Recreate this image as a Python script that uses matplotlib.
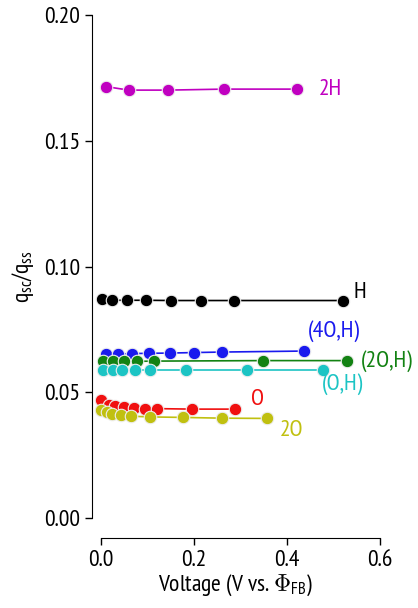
import matplotlib
matplotlib.use('Agg')
import matplotlib.pyplot as plt

plt.rcParams['font.family'] = ['PT Sans Narrow', 'DejaVu Sans']
plt.rcParams['mathtext.fontset'] = 'custom'
plt.rcParams['mathtext.rm'] = 'PT Sans Narrow'
plt.rcParams['mathtext.it'] = 'PT Sans Narrow'

# series: voltage (V vs. flat band) and q_sc/q_ss
v_2h = [0.011, 0.060, 0.145, 0.265, 0.422]
q_2h = [0.1716, 0.1702, 0.1702, 0.1706, 0.1706]

v_h = [0.002, 0.024, 0.057, 0.098, 0.150, 0.216, 0.287, 0.520]
q_h = [0.0872, 0.0866, 0.0866, 0.0866, 0.0865, 0.0865, 0.0865, 0.0865]

v_4oh = [0.011, 0.036, 0.066, 0.104, 0.149, 0.201, 0.260, 0.437]
q_4oh = [0.0654, 0.0652, 0.0654, 0.0655, 0.0656, 0.0658, 0.0660, 0.0664]

v_2oh = [0.004, 0.026, 0.050, 0.078, 0.114, 0.348, 0.529]
q_2oh = [0.0623, 0.0623, 0.0623, 0.0623, 0.0624, 0.0626, 0.0626]

v_oh = [0.005, 0.026, 0.046, 0.074, 0.105, 0.184, 0.315, 0.478]
q_oh = [0.0590, 0.0590, 0.0590, 0.0590, 0.0590, 0.0590, 0.0590, 0.0590]

v_o = [0.001, 0.017, 0.030, 0.050, 0.071, 0.095, 0.121, 0.196, 0.288]
q_o = [0.0468, 0.0450, 0.0444, 0.0440, 0.0437, 0.0435, 0.0435, 0.0433, 0.0433]

v_2o = [0.0, 0.014, 0.024, 0.043, 0.064, 0.105, 0.176, 0.260, 0.358]
q_2o = [0.0429, 0.0422, 0.0413, 0.0409, 0.0405, 0.0402, 0.0400, 0.0397, 0.0396]

series = [
    (v_2h, q_2h, '#c000c0', '2H', (0.468, 0.1704)),
    (v_h, q_h, 'black', 'H', (0.543, 0.0895)),
    (v_4oh, q_4oh, '#1a1aee', '(4O,H)', (0.445, 0.0745)),
    (v_2oh, q_2oh, '#138213', '(2O,H)', (0.558, 0.0625)),
    (v_oh, q_oh, '#1cc4c4', '(O,H)', (0.475, 0.0533)),
    (v_o, q_o, '#f01010', 'O', (0.322, 0.0470)),
    (v_2o, q_2o, '#c0c010', '2O', (0.385, 0.0348)),
]

fig = plt.figure(figsize=(4.18, 6.08), dpi=100)
ax = fig.add_axes([0.220, 0.115, 0.689, 0.860])

for v, q, c, name, pos in series:
    ax.plot(v, q, '-o', color=c, lw=1.2, ms=9, mfc=c,
            mec='#eeeeee', mew=0.8)
    ax.text(pos[0], pos[1], name, color=c, fontsize=17,
            ha='left', va='center')

ax.set_xlim(-0.019, 0.6)
ax.set_ylim(-0.008, 0.2)
ax.set_xticks([0.0, 0.2, 0.4, 0.6])
ax.set_yticks([0.0, 0.05, 0.10, 0.15, 0.20])
ax.set_xticklabels(['0.0', '0.2', '0.4', '0.6'])
ax.set_yticklabels(['0.00', '0.05', '0.10', '0.15', '0.20'])
ax.spines['top'].set_visible(False)
ax.spines['right'].set_visible(False)
ax.spines['bottom'].set_bounds(0, 0.6)
ax.spines['left'].set_bounds(0, 0.2)
ax.tick_params(direction='out', length=5, labelsize=17, width=1)
ax.set_xlabel(r'Voltage (V vs. $\Phi_{\mathregular{FB}}$)', fontsize=17, labelpad=1)
ax.set_ylabel(r'$\mathregular{q_{sc}/q_{ss}}$', fontsize=17, labelpad=6)

fig.savefig('out.png', dpi=100)
